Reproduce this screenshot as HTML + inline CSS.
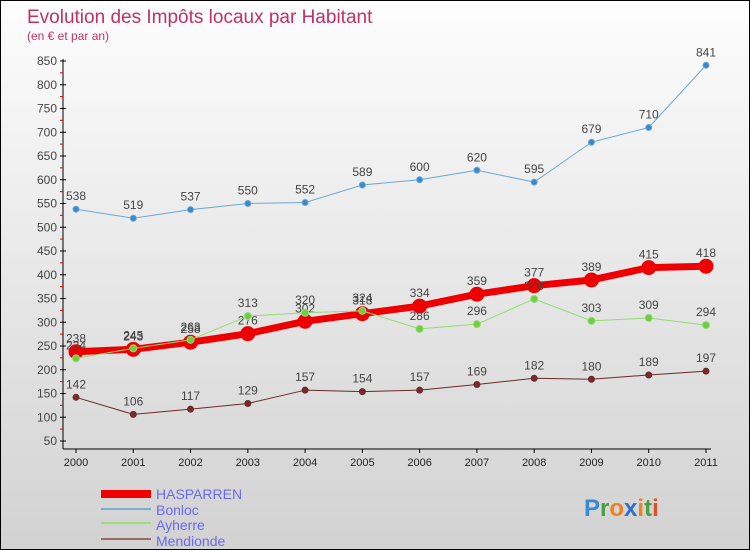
<!DOCTYPE html>
<html><head><meta charset="utf-8"><style>
body{margin:0}
#c{width:750px;height:550px;position:relative;box-sizing:border-box;border:1px solid #000;background:linear-gradient(#fdfdfd,#d2d2d2);font-family:"Liberation Sans",sans-serif;overflow:hidden}
text{font-family:"Liberation Sans",sans-serif}
</style></head><body>
<div id="c">
<svg id="s" width="750" height="550">
<text x="26" y="22" font-size="19" fill="#c0306a">Evolution des Impôts locaux par Habitant</text>
<text x="26" y="39" font-size="12" fill="#c0306a">(en € et par an)</text>
<g id="axes"></g><g id="series"></g>
<g>
<rect x="100" y="489" width="50" height="8" fill="#e00"/>
<text x="155" y="498" font-size="14" fill="#6a6af0">HASPARREN</text>
<rect x="100" y="507" width="50" height="2" fill="#7aaed0"/>
<text x="155" y="514" font-size="14" fill="#6a6af0">Bonloc</text>
<rect x="100" y="521" width="50" height="2" fill="#9de07a"/>
<text x="155" y="529" font-size="14" fill="#6a6af0">Ayherre</text>
<rect x="100" y="537" width="50" height="2" fill="#9a6a6a"/>
<text x="155" y="545" font-size="14" fill="#6a6af0">Mendionde</text>
</g>
<text x="583" y="515" font-size="24" font-weight="bold"><tspan fill="#3a8ad0">P</tspan><tspan fill="#4aa040">r</tspan><tspan fill="#f08020">o</tspan><tspan fill="#2a70d0">x</tspan><tspan fill="#f08020">i</tspan><tspan fill="#4aa040">t</tspan><tspan fill="#e05020">i</tspan></text>
</svg>
</div>
<script>
const years=[2000,2001,2002,2003,2004,2005,2006,2007,2008,2009,2010,2011];
const yTicks=[50,100,150,200,250,300,350,400,450,500,550,600,650,700,750,800,850];
const hasparren=[238,243,258,276,302,318,334,359,377,389,415,418];
const bonloc=[538,519,537,550,552,589,600,620,595,679,710,841];
const ayherre=[224,245,263,313,320,324,286,296,349,303,309,294];
const mendionde=[142,106,117,129,157,154,157,169,182,180,189,197];
const NS='http://www.w3.org/2000/svg';
const X=i=>75+i*(630/11);
const Y=v=>440-(v-50)*(380/800);
function mk(t,a,p){const e=document.createElementNS(NS,t);for(const k in a)e.setAttribute(k,a[k]);p.appendChild(e);return e;}
const ax=document.getElementById('axes');
let l=mk('line',{x1:62,y1:58,x2:62,y2:448,stroke:'#000'},ax);


l=mk('line',{x1:62,y1:448,x2:710,y2:448,stroke:'#000'},ax);


yTicks.forEach((v,i)=>{
 const y=Y(v);
 mk('line',{x1:59,y1:y,x2:65,y2:y,stroke:'#000'},ax);
 if(i<yTicks.length-1) mk('line',{x1:59,y1:y-11.9,x2:62,y2:y-11.9,stroke:'#e00'},ax);
 const t=mk('text',{x:56,y:y+4,'font-size':12,fill:'#444','text-anchor':'end'},ax);
 t.textContent=v;
 
 
});
years.forEach((yr,i)=>{
 const x=X(i);
 mk('line',{x1:x,y1:448,x2:x,y2:452,stroke:'#000'},ax);
 const t=mk('text',{x:x,y:465,'font-size':11,fill:'#222','text-anchor':'middle'},ax);
 t.textContent=yr;
 
 
});
const sg=document.getElementById('series');
function draw(data,name,color,w,r,fill){
 const g=mk('g',{},sg);
 
 
 const p=mk('polyline',{points:data.map((v,i)=>X(i)+','+Y(v)).join(' '),fill:'none',stroke:color,'stroke-width':w,'stroke-linejoin':'round'},g);
 
 
 data.forEach((v,i)=>{
  const c=mk('circle',{cx:X(i),cy:Y(v),r:r,fill:fill,stroke:color,'stroke-width':1},g);
  
  
  const t=mk('text',{x:X(i),y:Y(v)-9,'font-size':12,fill:'#444','text-anchor':'middle'},g);
  t.textContent=v;
  
  
 });
}
draw(mendionde,'mendionde','#6a2a2a',1,3,'#7a2a2a');
draw(bonloc,'bonloc','#6aa8d8',1,3,'#3a88c8');
draw(hasparren,'hasparren','#ee0000',7,7,'#ee0000');
draw(ayherre,'ayherre','#90dd70',1,3.5,'#70cc40');
</script>
</body></html>
